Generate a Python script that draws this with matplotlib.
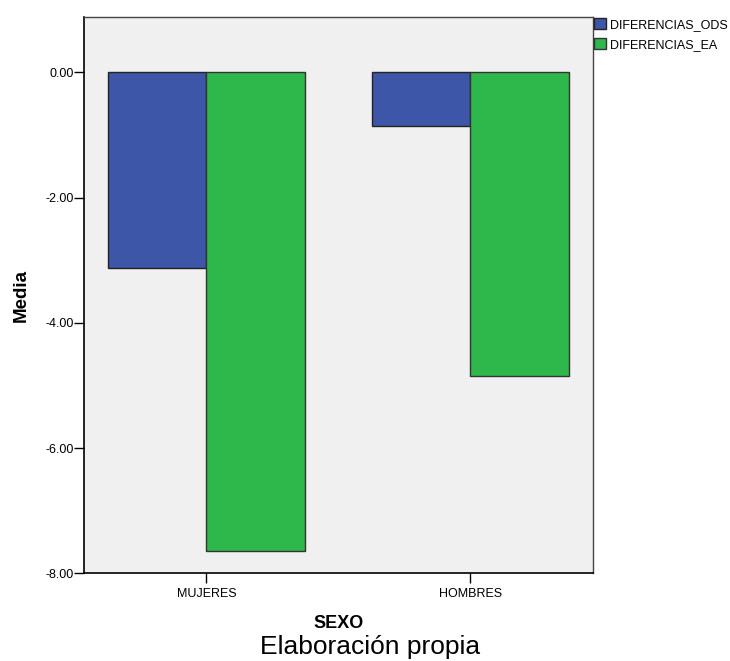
import numpy as np
import matplotlib
matplotlib.use("Agg")
import matplotlib.pyplot as plt

plt.rcParams['font.family'] = ['Liberation Sans', 'DejaVu Sans']

# data
sexo = ["MUJERES", "HOMBRES"]
series = ["DIFERENCIAS_ODS", "DIFERENCIAS_EA"]
ods = [-3.13, -0.86]
ea = [-7.65, -4.85]
colores = ["#3D56A8", "#2EB74A"]

fig = plt.figure(figsize=(7.30, 6.61), dpi=100)
ax = fig.add_axes([0.1155, 0.1327, 0.6964, 0.8419])
ax.set_facecolor("#F0F0F0")

x = np.arange(len(sexo))
w = 0.3735
b1 = ax.bar(x - w / 2, ods, w, color=colores[0], edgecolor="#222222", linewidth=1.0, label=series[0])
b2 = ax.bar(x + w / 2, ea, w, color=colores[1], edgecolor="#333333", linewidth=1.0, label=series[1])

ax.set_xlim(-0.463, 1.465)
ax.set_ylim(-8, 0.886)
ax.set_yticks([0, -2, -4, -6, -8])
ax.set_yticklabels(["%.2f" % v for v in [0, -2, -4, -6, -8]])
ax.set_xticks(x)
ax.set_xticklabels(sexo)

ax.tick_params(axis="y", direction="out", length=7, width=1, labelsize=9, pad=0.5)
ax.tick_params(axis="x", direction="out", length=7.5, width=1, labelsize=9, pad=3)

for s in ["left", "bottom"]:
    ax.spines[s].set_color("black")
    ax.spines[s].set_linewidth(1.2)
for s in ["top", "right"]:
    ax.spines[s].set_color("#444444")
    ax.spines[s].set_linewidth(1.0)

ax.set_ylabel("Media", fontsize=13.5, fontweight="bold")
ax.yaxis.set_label_coords(-0.108, 0.5)
fig.text(338.7 / 730, 1 - 628 / 661, "SEXO", fontsize=13, fontweight="bold", ha="center", va="baseline")
fig.text(370 / 730, 1 - 654 / 661, "Elaboración propia", fontsize=19, ha="center", va="baseline")

fig.legend(handles=[b1, b2], loc="upper left", bbox_to_anchor=(594 / 730, 1 - 18 / 661),
           frameon=False, fontsize=9, handlelength=0.95, handleheight=1.0,
           handletextpad=0.3, borderpad=0, borderaxespad=0, labelspacing=0.55)

fig.savefig("out.png", dpi=100)
